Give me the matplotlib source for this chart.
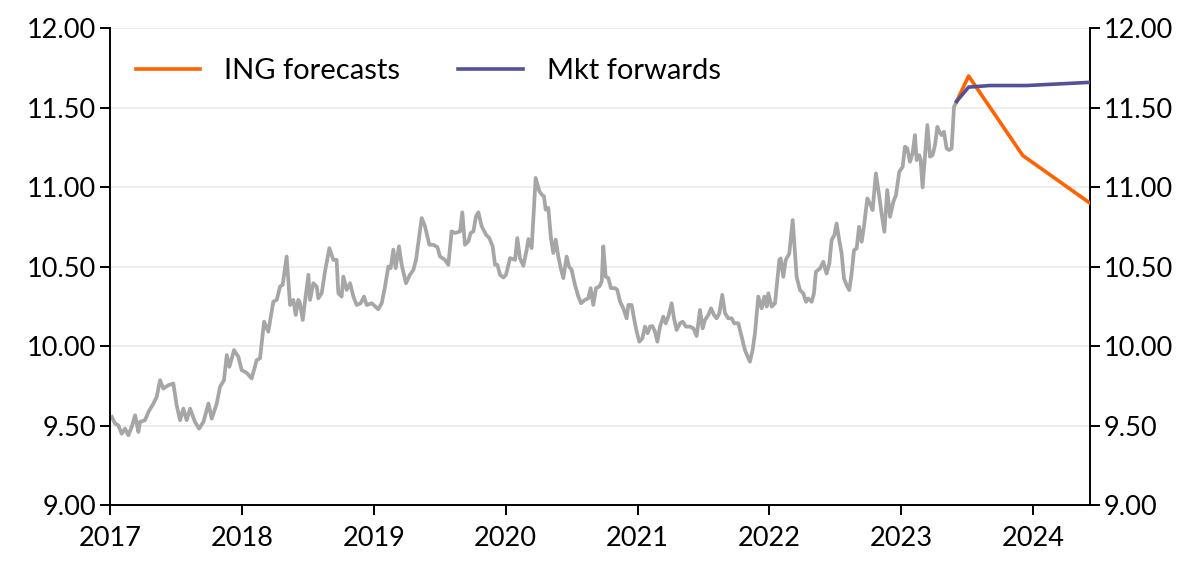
import matplotlib
matplotlib.use("Agg")
import matplotlib.pyplot as plt

plt.rcParams['font.family'] = ['Lato', 'DejaVu Sans']

# weekly spot history (decimal year, level)
hist_t = [2017.013, 2017.038, 2017.063, 2017.088, 2017.114, 2017.139, 2017.164, 2017.190,
          2017.215, 2017.227, 2017.265, 2017.291, 2017.329, 2017.354, 2017.379, 2017.404,
          2017.442, 2017.480, 2017.505, 2017.531, 2017.556, 2017.581, 2017.607, 2017.644,
          2017.675, 2017.708, 2017.746, 2017.771, 2017.809, 2017.834, 2017.864, 2017.885,
          2017.905, 2017.940, 2017.973, 2017.998, 2018.036, 2018.074, 2018.112, 2018.137,
          2018.168, 2018.200, 2018.238, 2018.264, 2018.289, 2018.309, 2018.339, 2018.365,
          2018.390, 2018.408, 2018.428, 2018.440, 2018.461, 2018.478, 2018.504, 2018.516,
          2018.542, 2018.567, 2018.579, 2018.605, 2018.630, 2018.663, 2018.693, 2018.718,
          2018.731, 2018.756, 2018.769, 2018.794, 2018.820, 2018.845, 2018.870, 2018.900,
          2018.926, 2018.946, 2018.984, 2019.034, 2019.060, 2019.085, 2019.110, 2019.128,
          2019.148, 2019.166, 2019.191, 2019.211, 2019.244, 2019.274, 2019.300, 2019.320,
          2019.363, 2019.388, 2019.421, 2019.451, 2019.482, 2019.502, 2019.540, 2019.565,
          2019.590, 2019.616, 2019.654, 2019.671, 2019.691, 2019.717, 2019.734, 2019.755,
          2019.775, 2019.793, 2019.818, 2019.851, 2019.876, 2019.901, 2019.919, 2019.937,
          2019.957, 2019.982, 2020.002, 2020.033, 2020.071, 2020.088, 2020.108, 2020.134,
          2020.159, 2020.172, 2020.197, 2020.227, 2020.255, 2020.273, 2020.290, 2020.303,
          2020.323, 2020.343, 2020.361, 2020.379, 2020.399, 2020.417, 2020.437, 2020.462,
          2020.480, 2020.500, 2020.525, 2020.551, 2020.571, 2020.601, 2020.626, 2020.644,
          2020.664, 2020.685, 2020.710, 2020.728, 2020.740, 2020.758, 2020.778, 2020.798,
          2020.829, 2020.846, 2020.867, 2020.892, 2020.917, 2020.930, 2020.955, 2020.975,
          2020.993, 2021.013, 2021.036, 2021.056, 2021.076, 2021.094, 2021.112, 2021.132,
          2021.150, 2021.170, 2021.195, 2021.213, 2021.233, 2021.258, 2021.276, 2021.296,
          2021.322, 2021.342, 2021.367, 2021.397, 2021.423, 2021.448, 2021.473, 2021.493,
          2021.511, 2021.536, 2021.557, 2021.579, 2021.599, 2021.620, 2021.642, 2021.663,
          2021.688, 2021.713, 2021.733, 2021.764, 2021.789, 2021.814, 2021.835, 2021.852,
          2021.872, 2021.890, 2021.915, 2021.941, 2021.961, 2021.979, 2021.991, 2022.017,
          2022.042, 2022.075, 2022.085, 2022.105, 2022.123, 2022.150, 2022.176, 2022.206,
          2022.231, 2022.257, 2022.277, 2022.294, 2022.320, 2022.337, 2022.352, 2022.383,
          2022.408, 2022.433, 2022.454, 2022.471, 2022.492, 2022.509, 2022.529, 2022.547,
          2022.565, 2022.585, 2022.605, 2022.623, 2022.641, 2022.661, 2022.679, 2022.699,
          2022.716, 2022.742, 2022.762, 2022.782, 2022.807, 2022.833, 2022.850, 2022.871,
          2022.893, 2022.914, 2022.939, 2022.959, 2022.984, 2023.010, 2023.027, 2023.045,
          2023.065, 2023.085, 2023.103, 2023.116, 2023.136, 2023.146, 2023.161, 2023.179,
          2023.197, 2023.217, 2023.237, 2023.255, 2023.273, 2023.288, 2023.305, 2023.323,
          2023.343, 2023.363, 2023.381, 2023.399, 2023.419]
hist_v = [9.555, 9.513, 9.502, 9.449, 9.481, 9.439, 9.491, 9.565,
          9.460, 9.523, 9.534, 9.586, 9.639, 9.681, 9.786, 9.733,
          9.754, 9.765, 9.628, 9.534, 9.607, 9.534, 9.607, 9.523,
          9.481, 9.523, 9.639, 9.544, 9.639, 9.744, 9.786, 9.944,
          9.870, 9.975, 9.933, 9.849, 9.832, 9.797, 9.912, 9.923,
          10.154, 10.091, 10.280, 10.291, 10.375, 10.386, 10.564, 10.259,
          10.291, 10.196, 10.291, 10.270, 10.165, 10.280, 10.449, 10.291,
          10.396, 10.375, 10.301, 10.333, 10.470, 10.617, 10.543, 10.543,
          10.333, 10.312, 10.438, 10.354, 10.396, 10.312, 10.259, 10.270,
          10.312, 10.259, 10.270, 10.232, 10.270, 10.375, 10.501, 10.491,
          10.607, 10.491, 10.628, 10.512, 10.396, 10.449, 10.480, 10.543,
          10.806, 10.754, 10.638, 10.638, 10.623, 10.564, 10.543, 10.512,
          10.722, 10.712, 10.722, 10.842, 10.638, 10.659, 10.712, 10.722,
          10.817, 10.842, 10.754, 10.701, 10.680, 10.628, 10.512, 10.512,
          10.449, 10.432, 10.449, 10.554, 10.543, 10.680, 10.554, 10.506,
          10.607, 10.674, 10.617, 11.059, 10.975, 10.954, 10.943, 10.859,
          10.870, 10.680, 10.586, 10.670, 10.564, 10.491, 10.428, 10.564,
          10.501, 10.480, 10.386, 10.312, 10.270, 10.291, 10.301, 10.365,
          10.259, 10.365, 10.375, 10.407, 10.628, 10.438, 10.428, 10.365,
          10.365, 10.354, 10.280, 10.238, 10.175, 10.259, 10.259, 10.165,
          10.091, 10.028, 10.049, 10.123, 10.081, 10.123, 10.127, 10.091,
          10.028, 10.123, 10.186, 10.144, 10.186, 10.270, 10.175, 10.102,
          10.144, 10.154, 10.123, 10.123, 10.112, 10.064, 10.228, 10.112,
          10.165, 10.196, 10.238, 10.196, 10.175, 10.207, 10.323, 10.207,
          10.175, 10.175, 10.144, 10.144, 10.060, 9.975, 9.933, 9.902,
          9.975, 10.081, 10.312, 10.238, 10.312, 10.249, 10.333, 10.249,
          10.270, 10.543, 10.552, 10.436, 10.541, 10.583, 10.793, 10.436,
          10.353, 10.332, 10.279, 10.300, 10.279, 10.332, 10.468, 10.489,
          10.531, 10.457, 10.520, 10.667, 10.699, 10.772, 10.667, 10.583,
          10.426, 10.384, 10.353, 10.457, 10.604, 10.615, 10.751, 10.657,
          10.751, 10.929, 10.898, 10.856, 11.087, 10.940, 10.835, 10.720,
          10.982, 10.814, 10.908, 10.950, 11.097, 11.129, 11.255, 11.244,
          11.160, 11.213, 11.328, 11.171, 11.202, 11.171, 10.999, 11.192,
          11.391, 11.192, 11.202, 11.265, 11.380, 11.349, 11.328, 11.349,
          11.244, 11.234, 11.244, 11.506, 11.538]

ing_t = [2023.419, 2023.51, 2023.92, 2024.43]
ing_v = [11.54, 11.70, 11.20, 10.90]

fwd_t = [2023.419, 2023.51, 2023.67, 2023.95, 2024.43]
fwd_v = [11.54, 11.63, 11.64, 11.64, 11.66]

years = [2017, 2018, 2019, 2020, 2021, 2022, 2023, 2024]
yticks = [9.0, 9.5, 10.0, 10.5, 11.0, 11.5, 12.0]

fig = plt.figure(figsize=(12, 5.72), dpi=100)
ax = fig.add_axes([0.0917, 0.117, 0.8166, 0.8335])

ax.plot(hist_t, hist_v, color='#A6A6A6', lw=2.7, zorder=2, solid_joinstyle='round')
ax.plot(ing_t, ing_v, color='#FF6200', lw=2.6, zorder=3, label='ING forecasts')
ax.plot(fwd_t, fwd_v, color='#525199', lw=2.6, zorder=4, label='Mkt forwards')

ax.set_xlim(2017, 2024.43)
ax.set_ylim(9, 12)
ax.set_xticks(years)
ax.set_xticklabels([str(y) for y in years])
ax.set_yticks(yticks)
ax.set_yticklabels([f'{v:.2f}' for v in yticks])
for v in yticks[1:]:
    ax.axhline(v, color='#EBEBEB', lw=1.2, zorder=0)

ax.spines['top'].set_visible(False)
for s in ['left', 'right', 'bottom']:
    ax.spines[s].set_linewidth(1.4)
ax.tick_params(axis='both', direction='out', length=7, width=1.4, labelsize=19.5,
               left=True, right=True, labelright=True)
ax.tick_params(axis='y', pad=3)
ax.tick_params(axis='x', pad=8)

leg = ax.legend(loc='upper left', ncol=2, frameon=False, fontsize=21,
                handlelength=2.2, handletextpad=0.82, columnspacing=2.0,
                borderaxespad=0, bbox_to_anchor=(0.0146, 0.9616))

fig.savefig('out.png', dpi=100)
